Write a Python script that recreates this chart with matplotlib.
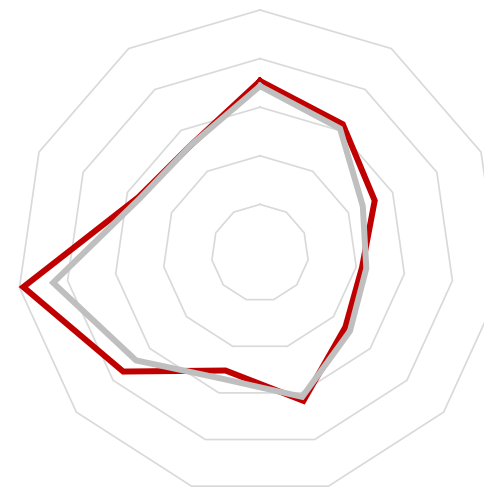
import numpy as np
import matplotlib
matplotlib.use("Agg")
import matplotlib.pyplot as plt

categories = [f"A{i+1}" for i in range(11)]
series_red = [70.8, 63.0, 51.9, 42.4, 46.5, 63.4, 50.4, 74.5, 98.4, 55.1, 52.7]
series_gray = [68.7, 60.9, 46.5, 44.2, 49.0, 61.7, 54.0, 67.5, 86.0, 54.3, 52.7]
ring_levels = [20, 40, 60, 80, 100]

n = len(categories)
theta = np.arange(n) * 2 * np.pi / n
theta_closed = np.append(theta, theta[0])

fig = plt.figure(figsize=(4.85, 4.89), dpi=100)
W, H = 485, 489
cx, cy, R = 260, 254, 243
ax = fig.add_axes([(cx - R) / W, (H - cy - R) / H, 2 * R / W, 2 * R / H], projection="polar")
ax.set_theta_offset(np.pi / 2)
ax.set_theta_direction(-1)
ax.set_ylim(0, 100)
ax.grid(False)
ax.spines["polar"].set_visible(False)
ax.set_xticks([])
ax.set_yticks([])
ax.patch.set_alpha(0)

for lvl in ring_levels:
    ax.plot(theta_closed, [lvl] * (n + 1), color="#d9d9d9", lw=1.2, zorder=1, clip_on=False)

ax.plot(theta_closed, series_red + series_red[:1], color="#c00000", lw=4.3,
        solid_joinstyle="miter", zorder=3, clip_on=False)
ax.plot(theta_closed, series_gray + series_gray[:1], color="#bfbfbf", lw=4.3,
        solid_joinstyle="miter", zorder=4, clip_on=False)

fig.savefig("out.png", dpi=100, facecolor="white")
